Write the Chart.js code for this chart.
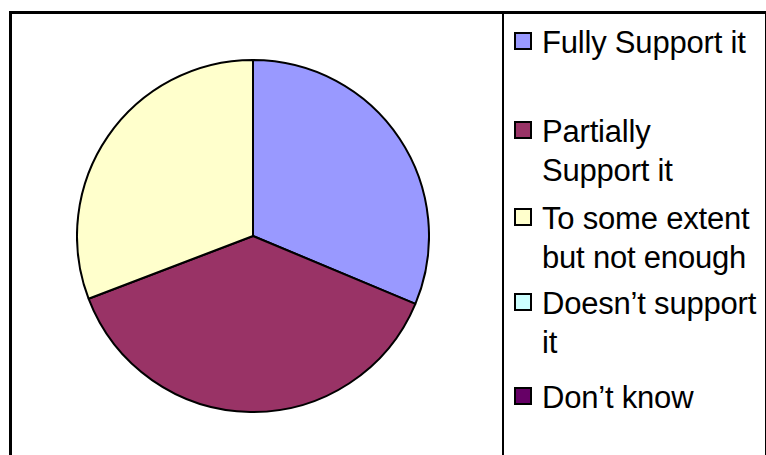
<!DOCTYPE html>
<html>
<head>
<meta charset="utf-8">
<script src="https://cdn.jsdelivr.net/npm/chart.js@4"></script>
<style>
    body { margin: 0; background: #fff; width: 766px; height: 455px; overflow: hidden; position: relative; }
    #frame { position: absolute; left: 9px; top: 11px; width: 753px; height: 460px; border: 3px solid #000; border-bottom: none; }
    #divider { position: absolute; left: 502px; top: 11px; width: 2px; height: 450px; background: #000; }
    #pieBox { position: absolute; left: 76px; top: 59px; width: 354px; height: 354px; }
    #legend { position: absolute; left: 0; top: 0; font-family: "Liberation Sans", Arial, sans-serif; font-size: 31px; line-height: 39px; color: #000; }
    .item { position: absolute; left: 514px; white-space: nowrap; }
    .box { position: absolute; left: 0; top: 11px; width: 14px; height: 14px; border: 2px solid #000; }
    .txt { position: absolute; left: 28px; top: 2px; letter-spacing: -0.2px; }
</style>
</head>
<body>
<div id="frame"></div>
<div id="divider"></div>
<div id="pieBox"><canvas id="pie"></canvas></div>
<div id="legend"></div>
<script>
// answers (legend labels, already split the way the legend wraps them)
const categories = [
    ['Fully Support it'],
    ['Partially', 'Support it'],
    ['To some extent', 'but not enough'],
    ['Doesn\u2019t support', 'it'],
    ['Don\u2019t know']
];
// share of answers in %
const values = [31.3, 37.9, 30.8, 0, 0];
const colors = ['#9999FF', '#993366', '#FFFFCC', '#CCFFFF', '#660066'];

// legend item tops (Excel spreads them over the legend height)
const legendTops = [21, 110, 197, 282, 376];

const legend = document.getElementById('legend');
categories.forEach((lines, i) => {
    const item = document.createElement('div');
    item.className = 'item';
    item.style.top = legendTops[i] + 'px';
    const box = document.createElement('span');
    box.className = 'box';
    box.style.background = colors[i];
    const txt = document.createElement('span');
    txt.className = 'txt';
    txt.innerHTML = lines.join('<br>');
    item.appendChild(box);
    item.appendChild(txt);
    legend.appendChild(item);
});

const ctx = document.getElementById('pie').getContext('2d');

new Chart(ctx, {
    type: 'pie',
    data: {
        labels: categories.map(l => l.join(' ')),
        datasets: [{
            data: values,
            backgroundColor: colors,
            borderColor: '#000',
            borderWidth: 2
        }]
    },
    options: {
        responsive: true,
        maintainAspectRatio: false,
        animation: false,
        layout: { padding: 0 },
        plugins: {
            legend: { display: false },
            tooltip: { enabled: false }
        }
    }
});
</script>
</body>
</html>
